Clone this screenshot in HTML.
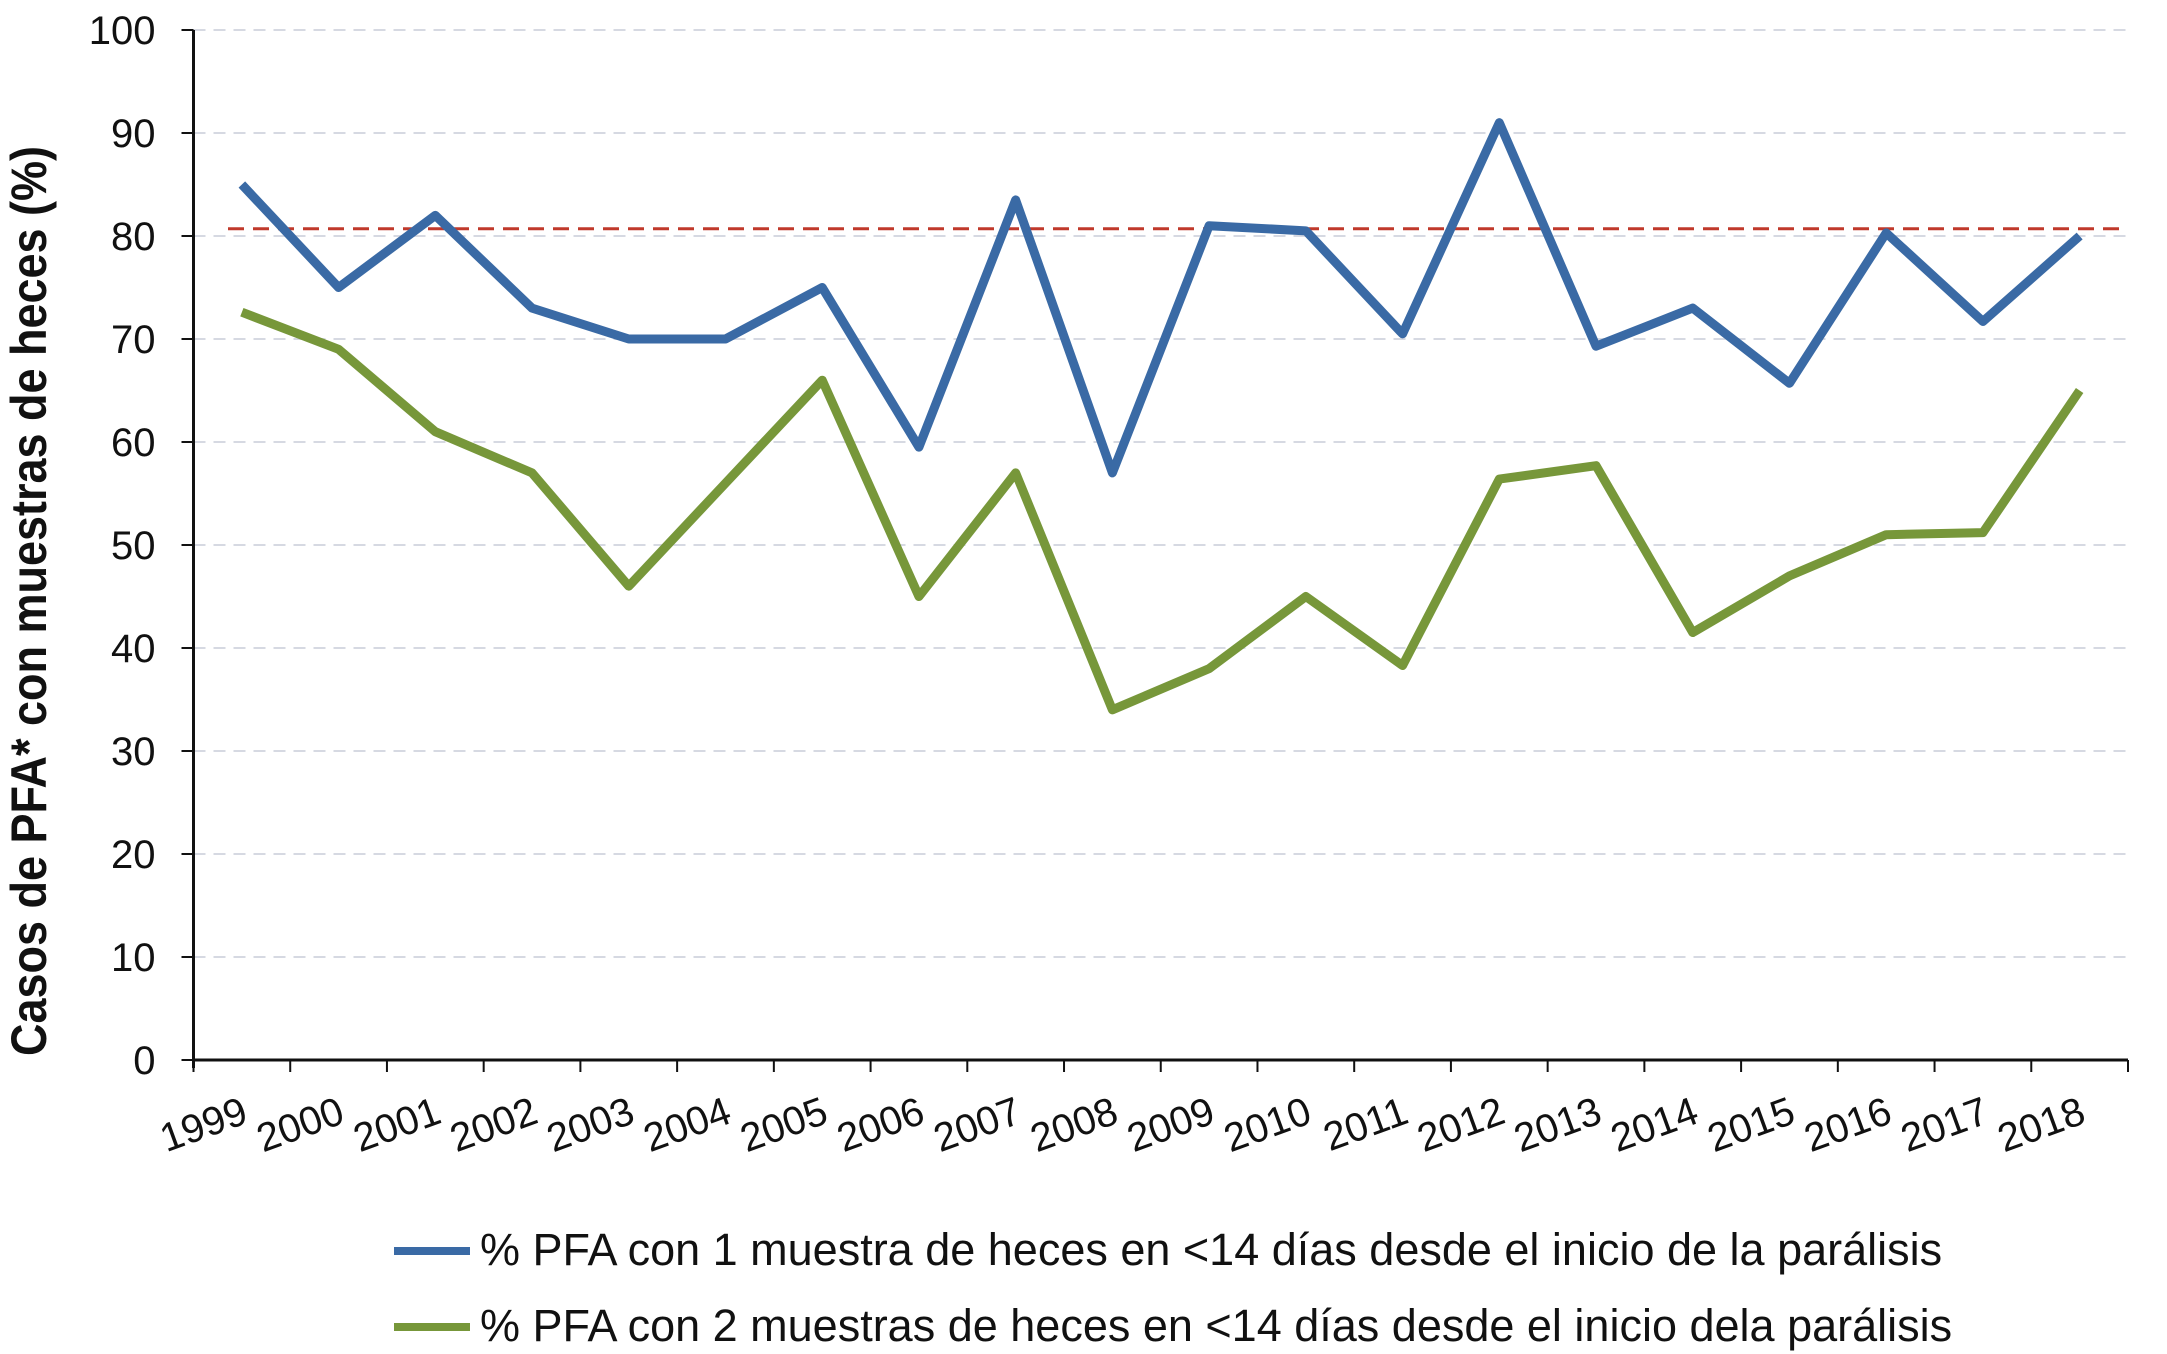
<!DOCTYPE html>
<html><head><meta charset="utf-8"><style>
html,body{margin:0;padding:0;background:#fff;}
svg{display:block;font-family:"Liberation Sans",Arial,sans-serif;}
</style></head><body>
<svg id="chart" width="2167" height="1354" viewBox="0 0 2167 1354">
<g id="grid"></g>
<g id="axes"></g>
<g id="series"></g>
<text transform="translate(46,601) rotate(-90) scale(0.9,1)" text-anchor="middle" font-size="50" font-weight="bold" fill="#111">Casos de PFA* con muestras de heces (%)</text>
<g>
<line x1="394" y1="1251" x2="470" y2="1251" stroke="#3a6aa5" stroke-width="8"/>
<text x="480" y="1265" font-size="45" fill="#111">% PFA con 1 muestra de heces en &lt;14 días desde el inicio de la parálisis</text>
<line x1="394" y1="1327" x2="470" y2="1327" stroke="#77973a" stroke-width="8"/>
<text x="480" y="1341" font-size="45" fill="#111">% PFA con 2 muestras de heces en &lt;14 días desde el inicio dela parálisis</text>
</g>
</svg>
<script>
const years=["1999","2000","2001","2002","2003","2004","2005","2006","2007","2008","2009","2010","2011","2012","2013","2014","2015","2016","2017","2018"];
const oneSample=[85,75,82,73,70,70,75,59.5,83.5,57,81,80.5,70.5,91,69.3,73,65.7,80.3,71.7,80];
const twoSamples=[72.6,69,61,57,46,56,66,45,57,34,38,45,38.3,56.4,57.7,41.5,47,51,51.2,65];
const yTicks=[0,10,20,30,40,50,60,70,80,90,100];
const target=[80.7];
const NS="http://www.w3.org/2000/svg";
const X0=193.5,X1=2128,Y0=1060,Y1=30;
const bw=(X1-X0)/years.length;
const x=i=>X0+bw*(i+0.5);
const y=v=>Y0-(v/100)*(Y0-Y1);
function mk(tag,attrs,parent){const e=document.createElementNS(NS,tag);for(const k in attrs)e.setAttribute(k,attrs[k]);parent.appendChild(e);return e;}
const grid=document.getElementById('grid'),axes=document.getElementById('axes'),series=document.getElementById('series');
yTicks.forEach(t=>{
  if(t>0){const g=mk('line',{x1:X0,x2:X1,y1:y(t),y2:y(t),stroke:'#d6d9e2','stroke-width':2,'stroke-dasharray':'12 8'},grid);
  
  }
  const tk=mk('line',{x1:X0-12,x2:X0,y1:y(t),y2:y(t),stroke:'#111','stroke-width':2},axes);
  
  
  const lb=mk('text',{x:X0-38,y:y(t)+14,'text-anchor':'end','font-size':40,fill:'#111'},axes);
  lb.textContent=t;
  
  
});
const ya=mk('line',{x1:X0,x2:X0,y1:Y1,y2:Y0+8,stroke:'#111','stroke-width':3},axes);


const xa=mk('line',{x1:X0,x2:X1,y1:Y0,y2:Y0,stroke:'#111','stroke-width':3},axes);


for(let i=0;i<=years.length;i++){
  const tk=mk('line',{x1:X0+bw*i,x2:X0+bw*i,y1:Y0,y2:Y0+12,stroke:'#111','stroke-width':2},axes);
  
  
}
years.forEach((yr,i)=>{
  const cx=x(i)+8,cy=Y0+62;
  const t=mk('text',{x:cx,y:cy,'text-anchor':'end','font-size':40,fill:'#111',transform:`rotate(-20 ${cx} ${cy})`},axes);
  t.textContent=yr;
  
  
});
const tl=mk('line',{x1:228,x2:X1,y1:y(target[0]),y2:y(target[0]),stroke:'#c0392b','stroke-width':3,'stroke-dasharray':'16 9'},series);


function line(vals,color,name){
  const p=mk('polyline',{points:vals.map((v,i)=>x(i)+','+y(v)).join(' '),fill:'none',stroke:color,'stroke-width':9,'stroke-linejoin':'round'},series);
  
  
}
line(twoSamples,'#77973a','series-two-samples');
line(oneSample,'#3a6aa5','series-one-sample');
</script>
</body></html>
